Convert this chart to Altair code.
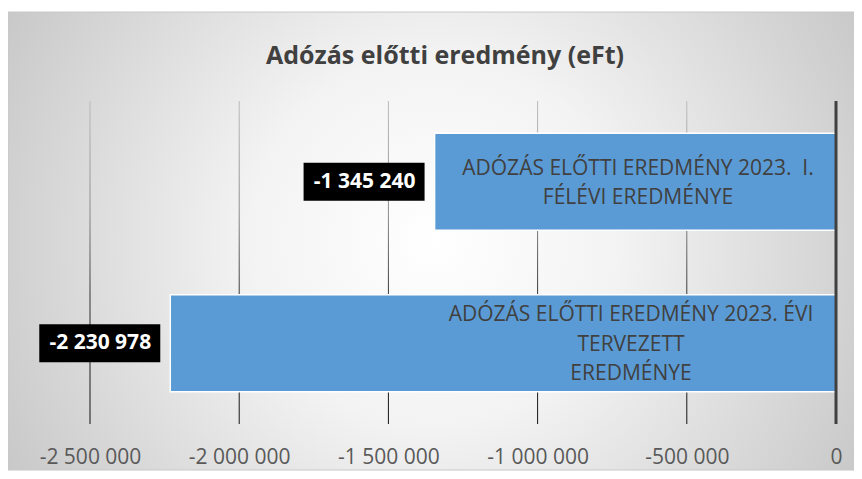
import altair as alt
import pandas as pd

# ---- data ----
categories = [
    "ADÓZÁS ELŐTTI EREDMÉNY 2023.\u00a0 I.|FÉLÉVI EREDMÉNYE",
    "ADÓZÁS ELŐTTI EREDMÉNY 2023. ÉVI|TERVEZETT|EREDMÉNYE",
]
values = [-1345240, -2230978]
value_labels = [f"{v:,}".replace(",", " ") for v in values]
tick_values = [-2500000, -2000000, -1500000, -1000000, -500000, 0]
title_text = "Adózás előtti eredmény (eFt)"

df = pd.DataFrame({"cat": categories, "value": values, "vlabel": value_labels, "order": [0, 1]})
ticks_df = pd.DataFrame({"t": tick_values})

W, H = 746, 323
FONT = "Open Sans"

xscale = alt.Scale(domain=[-2500000, 0], nice=False, zero=False)
x_axis = alt.Axis(
    values=tick_values,
    labelExpr="replace(replace(format(datum.value, ','), regexp(',', 'g'), ' '), '\u2212', '-')",
    grid=False, ticks=False, domain=False, zindex=1, labelFlush=False,
    labelFont=FONT, labelFontSize=21, labelColor="#595959",
    labelBaseline="middle", labelPadding=33, title=None,
)
yscale = alt.Scale(paddingInner=0.4, paddingOuter=0.2)
yenc = alt.Y("cat:N", sort=categories, scale=yscale, axis=None)

bg = alt.Chart(pd.DataFrame({"a": [0]})).mark_rect(
    fill=alt.RadialGradient(
        gradient="radial", x1=0.5, y1=0.5, r1=0, x2=0.5, y2=0.5, r2=0.62,
        stops=[alt.GradientStop(color="#ffffff", offset=0),
               alt.GradientStop(color="#f3f3f3", offset=0.35),
               alt.GradientStop(color="#c2c2c2", offset=1)],
    ),
    stroke="#c8c8c8", strokeWidth=1,
).encode(x=alt.value(-82), x2=alt.value(770), y=alt.value(-89), y2=alt.value(369))

title = alt.Chart(pd.DataFrame({"title": [title_text]})).mark_text(
    font=FONT, fontSize=25, fontWeight="bold", color="#404040",
    align="center", baseline="alphabetic",
).encode(x=alt.value(355), y=alt.value(-37), text="title:N")

grid = alt.Chart(ticks_df).transform_filter("datum.t < 0").mark_tick(
    thickness=1, size=H,
    color=alt.LinearGradient(
        gradient="linear", x1=0, y1=0, x2=0, y2=1,
        stops=[alt.GradientStop(color="#bcbcbc", offset=0),
               alt.GradientStop(color="#8a8a8a", offset=0.35),
               alt.GradientStop(color="#353535", offset=0.6),
               alt.GradientStop(color="#111111", offset=1)],
    ),
    opacity=1,
).encode(x=alt.X("t:Q", scale=xscale, axis=x_axis))

bars = alt.Chart(df).mark_bar(color="#5b9bd5", stroke="white", strokeWidth=1.5).encode(
    x=alt.X("value:Q", scale=xscale, axis=x_axis), y=yenc
)

zero = alt.Chart(pd.DataFrame({"z": [0]})).mark_rule(color="#404040", strokeWidth=3).encode(
    x=alt.X("z:Q", scale=xscale)
)

def cat_text(i, dx, dy):
    return alt.Chart(df).transform_filter(f"datum.order == {i}").transform_calculate(
        lines="split(datum.cat, '|')"
    ).mark_text(
        align="center", baseline="middle", lineHeight=29.5, fontSize=21,
        font=FONT, color="#404040", dx=dx, dy=dy,
    ).encode(x=alt.datum(0), y=yenc, text="lines:N")

boxes = alt.Chart(df).mark_bar(color="black", size=38, xOffset=-131, x2Offset=-10).encode(
    x=alt.X("value:Q", scale=xscale), x2="value:Q", y=yenc
)
box_text = alt.Chart(df).mark_text(
    align="center", baseline="middle", fontSize=21, fontWeight="bold", font=FONT,
    color="white", dx=-70,
).encode(x=alt.X("value:Q", scale=xscale), y=yenc, text="vlabel:N")

chart = alt.layer(
    bg, title, grid, bars, zero, cat_text(0, -198, -13), cat_text(1, -205, -28), boxes, box_text
).properties(
    width=W, height=H,
    autosize=alt.AutoSizeParams(type="none"),
    padding={"left": 82, "top": 93, "right": 18, "bottom": 47},
    background="white",
).configure_view(stroke=None)

chart.save("out.html", embed_options={"renderer": "svg", "actions": False})
